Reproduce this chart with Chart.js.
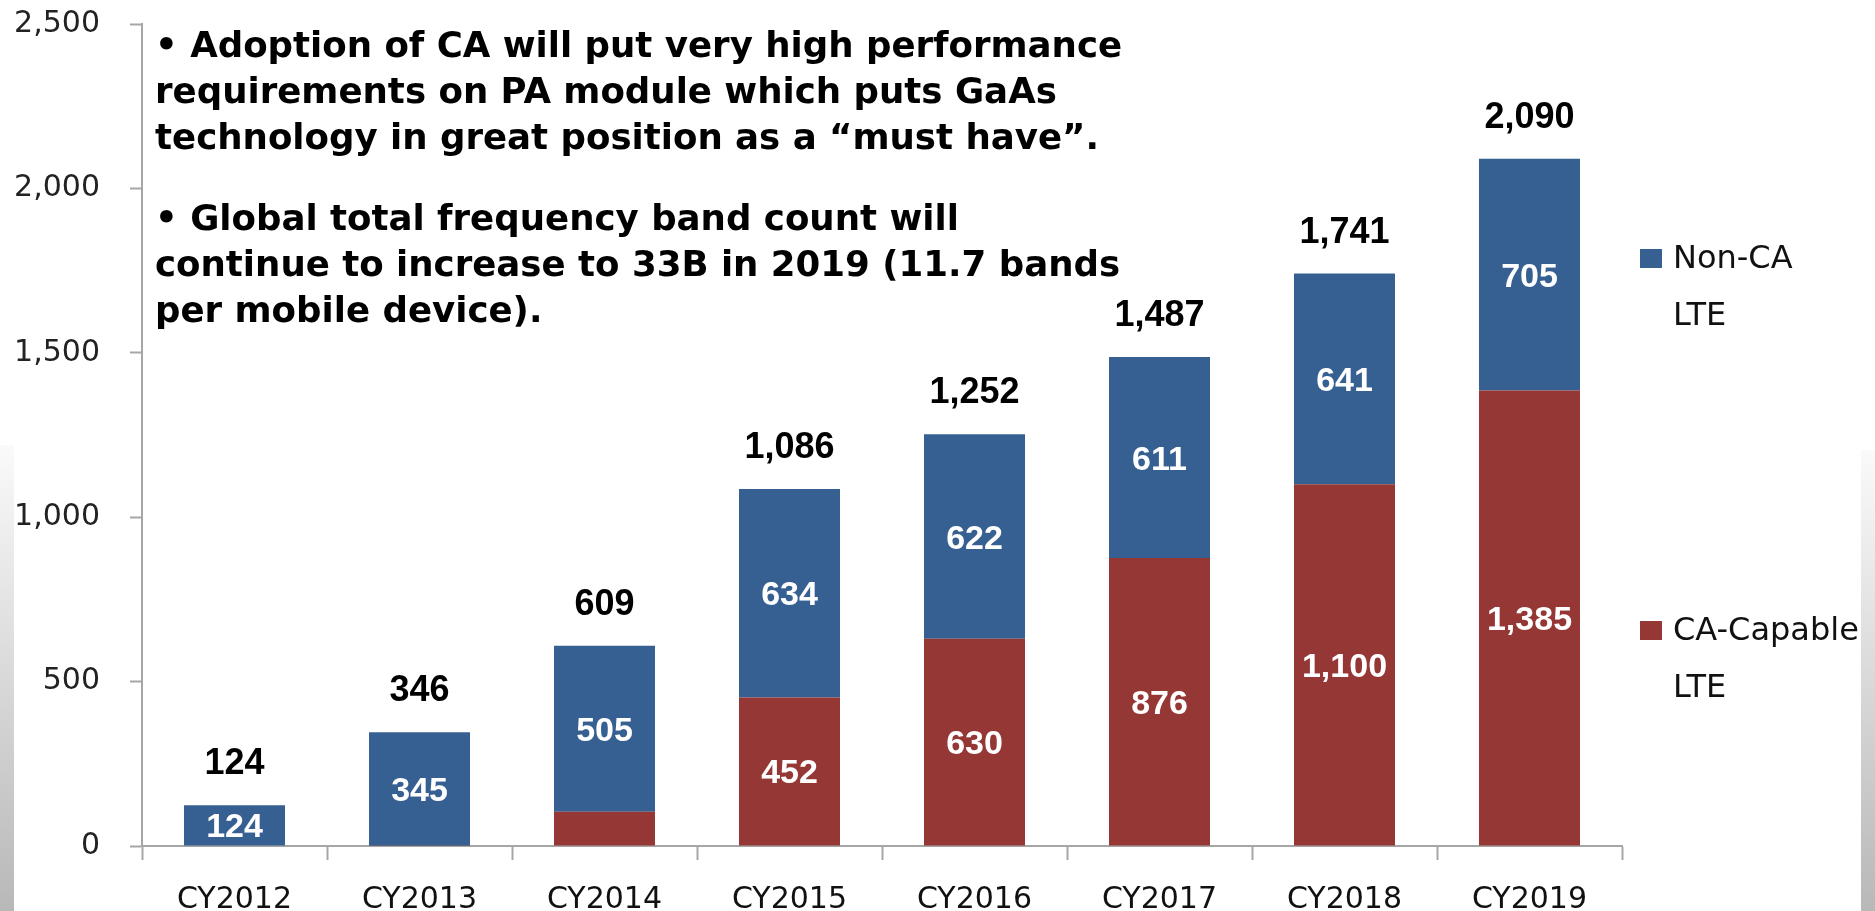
<!DOCTYPE html>
<html>
<head>
<meta charset="utf-8">
<script src="https://cdn.jsdelivr.net/npm/chart.js@4.4.1/dist/chart.umd.min.js"></script>
<style>
    html, body { margin: 0; padding: 0; background: #fff; }
    #wrap { position: relative; width: 1875px; height: 911px; overflow: hidden; }
    #chart { position: absolute; left: 0; top: 0; }
    .edge { position: absolute; width: 14px; bottom: 0;
            background: linear-gradient(to bottom, #fafafa, #b8b8b8); }
    #notes { position: absolute; left: 155px; top: 22px; white-space: nowrap;
             font-family: 'DejaVu Sans', sans-serif; font-weight: bold; font-size: 35.6px;
             line-height: 46px; color: #000; }
    #notes p { margin: 0 0 35px 0; }
</style>
</head>
<body>
<div id="wrap">
    <div class="edge" style="left:0; top:445px"></div>
    <div class="edge" style="left:1861px; top:450px"></div>
    <canvas id="chart" width="1875" height="911"></canvas>
    <div id="notes">
        <p>• Adoption of CA will put very high performance<br>requirements on PA module which puts GaAs<br>technology in great position as a “must have”.</p>
        <p>• Global total frequency band count will<br>continue to increase to 33B in 2019 (11.7 bands<br>per mobile device).</p>
    </div>
</div>
<script>
const years = ["CY2012", "CY2013", "CY2014", "CY2015", "CY2016", "CY2017", "CY2018", "CY2019"];
const caCapable = [0, 1, 104, 452, 630, 876, 1100, 1385];
const nonCA = [124, 345, 505, 634, 622, 611, 641, 705];
const yTicks = [0, 500, 1000, 1500, 2000, 2500];
const legendNames = [["Non-CA", "LTE"], ["CA-Capable", "LTE"]];

const BLUE = '#376092';
const RED = '#953735';
const AXIS = '#a6a6a6';

Chart.defaults.font.family = 'DejaVu Sans, sans-serif';
Chart.defaults.color = '#222';

function fmt(v) {
    return v.toLocaleString('en-US');
}

// etiquetas dentro de las barras y totales encima
const barLabels = {
    id: 'barLabels',
    afterDatasetsDraw(chart) {
        const ctx = chart.ctx;
        const y = chart.scales.y;
        ctx.save();
        ctx.textAlign = 'center';
        ctx.textBaseline = 'alphabetic';
        ctx.font = 'bold 34px "Liberation Sans", Arial, sans-serif';
        ctx.fillStyle = '#fff';
        chart.data.datasets.forEach((ds, i) => {
            const meta = chart.getDatasetMeta(i);
            meta.data.forEach((bar, j) => {
                const v = ds.data[j];
                if (v < 110) return;
                const mid = (bar.y + bar.base) / 2;
                ctx.fillText(fmt(v), bar.x, mid + 12);
            });
        });
        ctx.font = 'bold 36px "Liberation Sans", Arial, sans-serif';
        ctx.fillStyle = '#000';
        const meta = chart.getDatasetMeta(0);
        meta.data.forEach((bar, j) => {
            const total = caCapable[j] + nonCA[j];
            ctx.fillText(fmt(total), bar.x, y.getPixelForValue(total) - 31);
        });
        ctx.restore();
    }
};

// leyenda a la derecha, en dos líneas por serie
const sideLegend = {
    id: 'sideLegend',
    afterDraw(chart) {
        const ctx = chart.ctx;
        const colors = [BLUE, RED];
        const rows = [268, 640];
        ctx.save();
        ctx.font = '32px "DejaVu Sans", sans-serif';
        ctx.textAlign = 'left';
        ctx.textBaseline = 'alphabetic';
        legendNames.forEach((lines, i) => {
            ctx.fillStyle = colors[i];
            ctx.fillRect(1640, rows[i] - 19, 22, 19);
            ctx.fillStyle = '#111';
            ctx.fillText(lines[0], 1673, rows[i]);
            ctx.fillText(lines[1], 1673, rows[i] + 57);
        });
        ctx.restore();
    }
};

function createChart() {
    const ctx = document.getElementById('chart').getContext('2d');
    new Chart(ctx, {
        type: 'bar',
        data: {
            labels: years,
            datasets: [{
                label: 'CA-Capable LTE',
                data: caCapable,
                backgroundColor: RED,
                borderWidth: 0,
                categoryPercentage: 1,
                barPercentage: 0.546
            }, {
                label: 'Non-CA LTE',
                data: nonCA,
                backgroundColor: BLUE,
                borderWidth: 0,
                categoryPercentage: 1,
                barPercentage: 0.546
            }]
        },
        options: {
            responsive: false,
            animation: false,
            layout: { padding: { left: 0, right: 253, top: 24, bottom: 0 } },
            plugins: {
                legend: { display: false },
                tooltip: { enabled: false }
            },
            scales: {
                x: {
                    stacked: true,
                    afterFit(scale) { scale.height = 65; },
                    border: { color: AXIS, width: 2 },
                    grid: {
                        offset: true,
                        drawOnChartArea: false,
                        drawTicks: true,
                        tickLength: 14,
                        tickColor: AXIS,
                        tickWidth: 2
                    },
                    ticks: {
                        color: '#111',
                        padding: 22,
                        font: { size: 30 }
                    }
                },
                y: {
                    stacked: true,
                    min: yTicks[0],
                    max: yTicks[yTicks.length - 1],
                    afterFit(scale) {
                        scale.width = 142;
                        scale.paddingTop = 0;
                        scale.paddingBottom = 0;
                    },
                    afterBuildTicks(scale) {
                        scale.ticks = yTicks.map(v => ({ value: v }));
                    },
                    border: { color: AXIS, width: 2 },
                    grid: {
                        drawOnChartArea: false,
                        drawTicks: true,
                        tickLength: 12,
                        tickColor: AXIS,
                        tickWidth: 2
                    },
                    ticks: {
                        color: '#222',
                        padding: 30,
                        font: { size: 30 },
                        callback: v => fmt(v)
                    }
                }
            }
        },
        plugins: [barLabels, sideLegend]
    });
}

window.onload = () => {
    createChart();
};
</script>
</body>
</html>
